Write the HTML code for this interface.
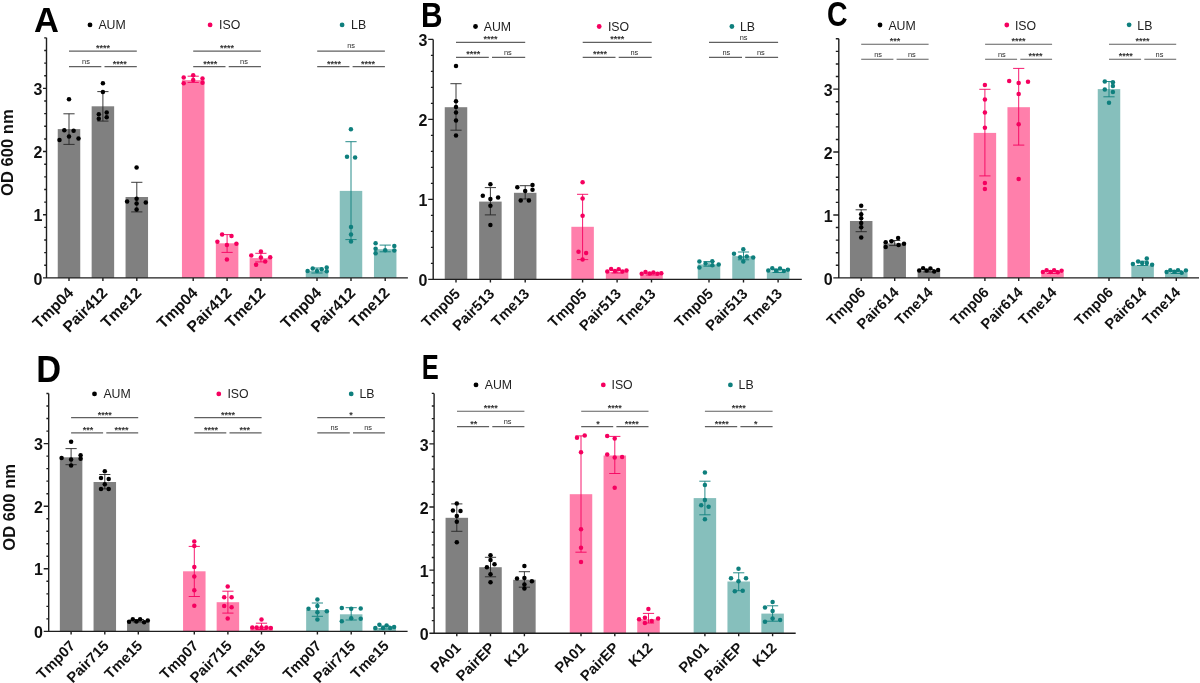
<!DOCTYPE html>
<html><head><meta charset="utf-8"><style>
html,body{margin:0;padding:0;background:#fff;}
svg{display:block;will-change:transform;}
text{font-family:"Liberation Sans",sans-serif;}
.tl{font-size:16px;font-weight:bold;fill:#111;}
.xl{font-size:15.6px;font-weight:bold;fill:#111;}
.let{font-size:36px;font-weight:bold;fill:#000;}
.yl{font-size:16.6px;font-weight:bold;fill:#111;}
.lg{font-size:12.3px;fill:#222;}
.st{font-size:9px;font-weight:bold;fill:#333;}
.ns{font-size:7.4px;fill:#2a2a2a;}
</style></head>
<body><svg width="1200" height="683" viewBox="0 0 1200 683">
<rect width="1200" height="683" fill="#fff"/>
<rect x="57.75" y="129.1" width="22.5" height="148.8" fill="#808080"/>
<rect x="91.65" y="106.3" width="22.5" height="171.6" fill="#808080"/>
<rect x="125.55" y="197" width="22.5" height="80.9" fill="#808080"/>
<rect x="181.95" y="80.1" width="22.5" height="197.8" fill="#ff7fab"/>
<rect x="215.85" y="243.3" width="22.5" height="34.6" fill="#ff7fab"/>
<rect x="249.65" y="258.1" width="22.5" height="19.8" fill="#ff7fab"/>
<rect x="305.75" y="270.9" width="22.5" height="7" fill="#86bfbc"/>
<rect x="339.75" y="190.9" width="22.5" height="87" fill="#86bfbc"/>
<rect x="373.95" y="249.2" width="22.5" height="28.7" fill="#86bfbc"/>
<path d="M69 113.8V144.4M63.4 113.8H74.6M63.4 144.4H74.6" stroke="#262626" stroke-width="0.9" fill="none"/>
<path d="M102.9 91.6V121.1M97.3 91.6H108.5M97.3 121.1H108.5" stroke="#262626" stroke-width="0.9" fill="none"/>
<path d="M136.8 182.3V211.9M131.2 182.3H142.4M131.2 211.9H142.4" stroke="#262626" stroke-width="0.9" fill="none"/>
<path d="M193.2 76.2V82.4M187.6 76.2H198.8M187.6 82.4H198.8" stroke="#f5005f" stroke-width="0.9" fill="none"/>
<path d="M227.1 234.6V252.4M221.5 234.6H232.7M221.5 252.4H232.7" stroke="#f5005f" stroke-width="0.9" fill="none"/>
<path d="M260.9 253.3V261.9M255.3 253.3H266.5M255.3 261.9H266.5" stroke="#f5005f" stroke-width="0.9" fill="none"/>
<path d="M317 268V273M311.4 268H322.6M311.4 273H322.6" stroke="#0e7f7d" stroke-width="0.9" fill="none"/>
<path d="M351 141.7V239.6M345.4 141.7H356.6M345.4 239.6H356.6" stroke="#0e7f7d" stroke-width="0.9" fill="none"/>
<path d="M385.2 245.1V251.8M379.6 245.1H390.8M379.6 251.8H390.8" stroke="#0e7f7d" stroke-width="0.9" fill="none"/>
<circle cx="69" cy="99.3" r="2.25" fill="#000000"/>
<circle cx="64.3" cy="130.3" r="2.25" fill="#000000"/>
<circle cx="73.6" cy="130.8" r="2.25" fill="#000000"/>
<circle cx="69" cy="136.6" r="2.25" fill="#000000"/>
<circle cx="59.5" cy="140" r="2.25" fill="#000000"/>
<circle cx="78.5" cy="138.5" r="2.25" fill="#000000"/>
<circle cx="102.9" cy="83.2" r="2.25" fill="#000000"/>
<circle cx="102.9" cy="92" r="2.25" fill="#000000"/>
<circle cx="98.8" cy="114.2" r="2.25" fill="#000000"/>
<circle cx="106.7" cy="112.5" r="2.25" fill="#000000"/>
<circle cx="98.8" cy="118.7" r="2.25" fill="#000000"/>
<circle cx="106.7" cy="117.2" r="2.25" fill="#000000"/>
<circle cx="136.6" cy="167.5" r="2.25" fill="#000000"/>
<circle cx="136.6" cy="198.8" r="2.25" fill="#000000"/>
<circle cx="127.1" cy="201.4" r="2.25" fill="#000000"/>
<circle cx="136.6" cy="203.4" r="2.25" fill="#000000"/>
<circle cx="145.8" cy="202.4" r="2.25" fill="#000000"/>
<circle cx="136.6" cy="209.6" r="2.25" fill="#000000"/>
<circle cx="183.7" cy="77.5" r="2.25" fill="#f5005f"/>
<circle cx="193.2" cy="75.3" r="2.25" fill="#f5005f"/>
<circle cx="202.5" cy="78.5" r="2.25" fill="#f5005f"/>
<circle cx="183.7" cy="83.2" r="2.25" fill="#f5005f"/>
<circle cx="193.2" cy="79.9" r="2.25" fill="#f5005f"/>
<circle cx="202.5" cy="82.7" r="2.25" fill="#f5005f"/>
<circle cx="222.1" cy="234.6" r="2.25" fill="#f5005f"/>
<circle cx="231.5" cy="235.9" r="2.25" fill="#f5005f"/>
<circle cx="217.4" cy="241.7" r="2.25" fill="#f5005f"/>
<circle cx="226.9" cy="244.9" r="2.25" fill="#f5005f"/>
<circle cx="236.4" cy="243.8" r="2.25" fill="#f5005f"/>
<circle cx="226.9" cy="259.5" r="2.25" fill="#f5005f"/>
<circle cx="260.9" cy="251.4" r="2.25" fill="#f5005f"/>
<circle cx="251.3" cy="255.4" r="2.25" fill="#f5005f"/>
<circle cx="260.9" cy="257.4" r="2.25" fill="#f5005f"/>
<circle cx="270.2" cy="257.3" r="2.25" fill="#f5005f"/>
<circle cx="265.2" cy="261.6" r="2.25" fill="#f5005f"/>
<circle cx="256.1" cy="264.7" r="2.25" fill="#f5005f"/>
<circle cx="307.6" cy="270.9" r="2.25" fill="#0e7f7d"/>
<circle cx="312.7" cy="268.6" r="2.25" fill="#0e7f7d"/>
<circle cx="317" cy="270.9" r="2.25" fill="#0e7f7d"/>
<circle cx="321.7" cy="269.2" r="2.25" fill="#0e7f7d"/>
<circle cx="326.7" cy="267.4" r="2.25" fill="#0e7f7d"/>
<circle cx="326.7" cy="271.2" r="2.25" fill="#0e7f7d"/>
<circle cx="350.9" cy="129.2" r="2.25" fill="#0e7f7d"/>
<circle cx="347" cy="156.7" r="2.25" fill="#0e7f7d"/>
<circle cx="355.1" cy="157.4" r="2.25" fill="#0e7f7d"/>
<circle cx="351" cy="227" r="2.25" fill="#0e7f7d"/>
<circle cx="351" cy="234.4" r="2.25" fill="#0e7f7d"/>
<circle cx="351" cy="241.4" r="2.25" fill="#0e7f7d"/>
<circle cx="375.6" cy="243.2" r="2.25" fill="#0e7f7d"/>
<circle cx="375.6" cy="248.7" r="2.25" fill="#0e7f7d"/>
<circle cx="375.6" cy="253.3" r="2.25" fill="#0e7f7d"/>
<circle cx="385.2" cy="250.2" r="2.25" fill="#0e7f7d"/>
<circle cx="394.3" cy="246" r="2.25" fill="#0e7f7d"/>
<circle cx="394.3" cy="250.4" r="2.25" fill="#0e7f7d"/>
<path d="M46.5 37.85V277.9M43 277.9H407.9M43 277.9H46.5M44.2 265.27H46.5M44.2 252.63H46.5M44.2 240H46.5M44.2 227.36H46.5M43 214.73H46.5M44.2 202.1H46.5M44.2 189.46H46.5M44.2 176.83H46.5M44.2 164.19H46.5M43 151.56H46.5M44.2 138.93H46.5M44.2 126.29H46.5M44.2 113.66H46.5M44.2 101.02H46.5M43 88.39H46.5M44.2 75.76H46.5M44.2 63.12H46.5M44.2 50.49H46.5M44.2 37.85H46.5M69 277.9V280.9M102.9 277.9V280.9M136.8 277.9V280.9M193.2 277.9V280.9M227.1 277.9V280.9M260.9 277.9V280.9M317 277.9V280.9M351 277.9V280.9M385.2 277.9V280.9" stroke="#1e1e1e" stroke-width="1.4" fill="none"/>
<text x="42.3" y="284.5" class="tl" text-anchor="end">0</text>
<text x="42.3" y="221.33" class="tl" text-anchor="end">1</text>
<text x="42.3" y="158.16" class="tl" text-anchor="end">2</text>
<text x="42.3" y="94.99" class="tl" text-anchor="end">3</text>
<text transform="translate(74.5 293.9) rotate(-45)" class="xl" style="font-size:15.6px" text-anchor="end">Tmp04</text>
<text transform="translate(108.4 293.9) rotate(-45)" class="xl" style="font-size:15.6px" text-anchor="end">Pair412</text>
<text transform="translate(142.3 293.9) rotate(-45)" class="xl" style="font-size:15.6px" text-anchor="end">Tme12</text>
<text transform="translate(198.7 293.9) rotate(-45)" class="xl" style="font-size:15.6px" text-anchor="end">Tmp04</text>
<text transform="translate(232.6 293.9) rotate(-45)" class="xl" style="font-size:15.6px" text-anchor="end">Pair412</text>
<text transform="translate(266.4 293.9) rotate(-45)" class="xl" style="font-size:15.6px" text-anchor="end">Tme12</text>
<text transform="translate(322.5 293.9) rotate(-45)" class="xl" style="font-size:15.6px" text-anchor="end">Tmp04</text>
<text transform="translate(356.5 293.9) rotate(-45)" class="xl" style="font-size:15.6px" text-anchor="end">Pair412</text>
<text transform="translate(390.7 293.9) rotate(-45)" class="xl" style="font-size:15.6px" text-anchor="end">Tme12</text>
<text transform="translate(34.06 32.15) scale(0.975 1)" style="font-size:35.44px" class="let">A</text>
<text transform="translate(13.4 152.6) rotate(-90)" class="yl" text-anchor="middle">OD 600 nm</text>
<circle cx="90" cy="24.9" r="2.4" fill="#000000"/>
<text x="98.4" y="29.3" class="lg">AUM</text>
<circle cx="210.1" cy="24.9" r="2.4" fill="#f5005f"/>
<text x="219.1" y="29.3" class="lg">ISO</text>
<circle cx="342.1" cy="24.9" r="2.4" fill="#0e7f7d"/>
<text x="351.1" y="29.3" class="lg">LB</text>
<path d="M69 51.1H136.8M69 66.6H101.3M104.5 66.6H136.8" stroke="#606060" stroke-width="1.1" fill="none"/>
<text x="102.9" y="51" class="st" text-anchor="middle">****</text>
<text x="85.95" y="63.8" class="ns" text-anchor="middle">ns</text>
<text x="119.85" y="66.5" class="st" text-anchor="middle">****</text>
<path d="M193.2 51.1H260.9M193.2 66.6H225.5M228.7 66.6H260.9" stroke="#606060" stroke-width="1.1" fill="none"/>
<text x="227.05" y="51" class="st" text-anchor="middle">****</text>
<text x="210.15" y="66.5" class="st" text-anchor="middle">****</text>
<text x="244" y="63.8" class="ns" text-anchor="middle">ns</text>
<path d="M317.2 51.1H384.9M317.2 66.6H349.4M352.6 66.6H384.9" stroke="#606060" stroke-width="1.1" fill="none"/>
<text x="351.05" y="48.3" class="ns" text-anchor="middle">ns</text>
<text x="334.1" y="66.5" class="st" text-anchor="middle">****</text>
<text x="367.95" y="66.5" class="st" text-anchor="middle">****</text>
<rect x="444.75" y="107.2" width="22.5" height="172.2" fill="#808080"/>
<rect x="479.15" y="201.6" width="22.5" height="77.8" fill="#808080"/>
<rect x="513.95" y="192.8" width="22.5" height="86.6" fill="#808080"/>
<rect x="571.35" y="226.8" width="22.5" height="52.6" fill="#ff7fab"/>
<rect x="605.85" y="272" width="22.5" height="7.4" fill="#ff7fab"/>
<rect x="640.25" y="274.2" width="22.5" height="5.2" fill="#ff7fab"/>
<rect x="697.75" y="264.4" width="22.5" height="15" fill="#86bfbc"/>
<rect x="732.25" y="256.1" width="22.5" height="23.3" fill="#86bfbc"/>
<rect x="766.85" y="271.5" width="22.5" height="7.9" fill="#86bfbc"/>
<path d="M456 83.7V130.2M450.4 83.7H461.6M450.4 130.2H461.6" stroke="#262626" stroke-width="0.9" fill="none"/>
<path d="M490.4 187.6V214.9M484.8 187.6H496M484.8 214.9H496" stroke="#262626" stroke-width="0.9" fill="none"/>
<path d="M525.2 185.7V199M519.6 185.7H530.8M519.6 199H530.8" stroke="#262626" stroke-width="0.9" fill="none"/>
<path d="M582.6 194.3V259.6M577 194.3H588.2M577 259.6H588.2" stroke="#f5005f" stroke-width="0.9" fill="none"/>
<path d="M617.1 270.5V273M611.5 270.5H622.7M611.5 273H622.7" stroke="#f5005f" stroke-width="0.9" fill="none"/>
<path d="M651.5 273V275M645.9 273H657.1M645.9 275H657.1" stroke="#f5005f" stroke-width="0.9" fill="none"/>
<path d="M709 261.6V266.2M703.4 261.6H714.6M703.4 266.2H714.6" stroke="#0e7f7d" stroke-width="0.9" fill="none"/>
<path d="M743.5 252V259.8M737.9 252H749.1M737.9 259.8H749.1" stroke="#0e7f7d" stroke-width="0.9" fill="none"/>
<path d="M778.1 269.5V272.5M772.5 269.5H783.7M772.5 272.5H783.7" stroke="#0e7f7d" stroke-width="0.9" fill="none"/>
<circle cx="456" cy="65.9" r="2.25" fill="#000000"/>
<circle cx="456" cy="101.3" r="2.25" fill="#000000"/>
<circle cx="456" cy="106.9" r="2.25" fill="#000000"/>
<circle cx="456" cy="112.6" r="2.25" fill="#000000"/>
<circle cx="456" cy="120.5" r="2.25" fill="#000000"/>
<circle cx="456" cy="135.6" r="2.25" fill="#000000"/>
<circle cx="490.4" cy="184.2" r="2.25" fill="#000000"/>
<circle cx="482.8" cy="195.8" r="2.25" fill="#000000"/>
<circle cx="498.1" cy="197.4" r="2.25" fill="#000000"/>
<circle cx="490.4" cy="199" r="2.25" fill="#000000"/>
<circle cx="490.4" cy="205.8" r="2.25" fill="#000000"/>
<circle cx="490.4" cy="225.1" r="2.25" fill="#000000"/>
<circle cx="517.3" cy="187.3" r="2.25" fill="#000000"/>
<circle cx="532.5" cy="185" r="2.25" fill="#000000"/>
<circle cx="525.2" cy="191" r="2.25" fill="#000000"/>
<circle cx="532.5" cy="189.8" r="2.25" fill="#000000"/>
<circle cx="520.7" cy="200.6" r="2.25" fill="#000000"/>
<circle cx="528.9" cy="200.5" r="2.25" fill="#000000"/>
<circle cx="582.6" cy="182.3" r="2.25" fill="#f5005f"/>
<circle cx="582.6" cy="198.5" r="2.25" fill="#f5005f"/>
<circle cx="582.6" cy="215.7" r="2.25" fill="#f5005f"/>
<circle cx="578.5" cy="251.7" r="2.25" fill="#f5005f"/>
<circle cx="586.1" cy="253" r="2.25" fill="#f5005f"/>
<circle cx="582.6" cy="259.6" r="2.25" fill="#f5005f"/>
<circle cx="607.3" cy="271.4" r="2.25" fill="#f5005f"/>
<circle cx="611.1" cy="269" r="2.25" fill="#f5005f"/>
<circle cx="614.9" cy="271.1" r="2.25" fill="#f5005f"/>
<circle cx="618.7" cy="269.3" r="2.25" fill="#f5005f"/>
<circle cx="622.5" cy="271.4" r="2.25" fill="#f5005f"/>
<circle cx="626.5" cy="270.5" r="2.25" fill="#f5005f"/>
<circle cx="641.7" cy="273.7" r="2.25" fill="#f5005f"/>
<circle cx="645.5" cy="272" r="2.25" fill="#f5005f"/>
<circle cx="649.6" cy="273.4" r="2.25" fill="#f5005f"/>
<circle cx="653.4" cy="272.5" r="2.25" fill="#f5005f"/>
<circle cx="657.5" cy="273.7" r="2.25" fill="#f5005f"/>
<circle cx="661.3" cy="273.3" r="2.25" fill="#f5005f"/>
<circle cx="699.4" cy="261.6" r="2.25" fill="#0e7f7d"/>
<circle cx="699.4" cy="267.6" r="2.25" fill="#0e7f7d"/>
<circle cx="705.6" cy="263.5" r="2.25" fill="#0e7f7d"/>
<circle cx="712.3" cy="261.2" r="2.25" fill="#0e7f7d"/>
<circle cx="712.3" cy="265.3" r="2.25" fill="#0e7f7d"/>
<circle cx="718.7" cy="264.4" r="2.25" fill="#0e7f7d"/>
<circle cx="743.3" cy="249.2" r="2.25" fill="#0e7f7d"/>
<circle cx="734" cy="253.8" r="2.25" fill="#0e7f7d"/>
<circle cx="740.2" cy="257.2" r="2.25" fill="#0e7f7d"/>
<circle cx="746.8" cy="256.6" r="2.25" fill="#0e7f7d"/>
<circle cx="753.2" cy="257.5" r="2.25" fill="#0e7f7d"/>
<circle cx="743.3" cy="261.6" r="2.25" fill="#0e7f7d"/>
<circle cx="768.3" cy="270.6" r="2.25" fill="#0e7f7d"/>
<circle cx="772.3" cy="268.2" r="2.25" fill="#0e7f7d"/>
<circle cx="776" cy="270.4" r="2.25" fill="#0e7f7d"/>
<circle cx="780" cy="268.4" r="2.25" fill="#0e7f7d"/>
<circle cx="783.9" cy="271" r="2.25" fill="#0e7f7d"/>
<circle cx="787.9" cy="269.7" r="2.25" fill="#0e7f7d"/>
<path d="M433.2 39.4V279.4M428.2 279.4H801.8M428.2 279.4H433.2M430.9 263.4H433.2M430.9 247.4H433.2M430.9 231.4H433.2M430.9 215.4H433.2M428.2 199.4H433.2M430.9 183.4H433.2M430.9 167.4H433.2M430.9 151.4H433.2M430.9 135.4H433.2M428.2 119.4H433.2M430.9 103.4H433.2M430.9 87.4H433.2M430.9 71.4H433.2M430.9 55.4H433.2M428.2 39.4H433.2M456 279.4V282.4M490.4 279.4V282.4M525.2 279.4V282.4M582.6 279.4V282.4M617.1 279.4V282.4M651.5 279.4V282.4M709 279.4V282.4M743.5 279.4V282.4M778.1 279.4V282.4" stroke="#1e1e1e" stroke-width="1.4" fill="none"/>
<text x="427.5" y="286" class="tl" text-anchor="end">0</text>
<text x="427.5" y="206" class="tl" text-anchor="end">1</text>
<text x="427.5" y="126" class="tl" text-anchor="end">2</text>
<text x="427.5" y="46" class="tl" text-anchor="end">3</text>
<text transform="translate(461 294.8) rotate(-45)" class="xl" style="font-size:14.7px" text-anchor="end">Tmp05</text>
<text transform="translate(495.4 294.8) rotate(-45)" class="xl" style="font-size:14.7px" text-anchor="end">Pair513</text>
<text transform="translate(530.2 294.8) rotate(-45)" class="xl" style="font-size:14.7px" text-anchor="end">Tme13</text>
<text transform="translate(587.6 294.8) rotate(-45)" class="xl" style="font-size:14.7px" text-anchor="end">Tmp05</text>
<text transform="translate(622.1 294.8) rotate(-45)" class="xl" style="font-size:14.7px" text-anchor="end">Pair513</text>
<text transform="translate(656.5 294.8) rotate(-45)" class="xl" style="font-size:14.7px" text-anchor="end">Tme13</text>
<text transform="translate(714 294.8) rotate(-45)" class="xl" style="font-size:14.7px" text-anchor="end">Tmp05</text>
<text transform="translate(748.5 294.8) rotate(-45)" class="xl" style="font-size:14.7px" text-anchor="end">Pair513</text>
<text transform="translate(783.1 294.8) rotate(-45)" class="xl" style="font-size:14.7px" text-anchor="end">Tme13</text>
<text transform="translate(421.11 26.9) scale(0.854 1)" style="font-size:34.93px" class="let">B</text>
<circle cx="475.5" cy="26.5" r="2.4" fill="#000000"/>
<text x="483.7" y="30.8" class="lg">AUM</text>
<circle cx="599.2" cy="26.5" r="2.4" fill="#f5005f"/>
<text x="607.9" y="30.8" class="lg">ISO</text>
<circle cx="731.9" cy="26.5" r="2.4" fill="#0e7f7d"/>
<text x="739.9" y="30.8" class="lg">LB</text>
<path d="M456 42.4H525.2M456 57.4H488.8M492 57.4H525.2" stroke="#606060" stroke-width="1.1" fill="none"/>
<text x="490.6" y="42.3" class="st" text-anchor="middle">****</text>
<text x="473.2" y="57.3" class="st" text-anchor="middle">****</text>
<text x="507.8" y="54.6" class="ns" text-anchor="middle">ns</text>
<path d="M582.7 42.4H651.7M582.7 57.4H615.5M618.7 57.4H651.7" stroke="#606060" stroke-width="1.1" fill="none"/>
<text x="617.2" y="42.3" class="st" text-anchor="middle">****</text>
<text x="599.9" y="57.3" class="st" text-anchor="middle">****</text>
<text x="634.4" y="54.6" class="ns" text-anchor="middle">ns</text>
<path d="M709 42.4H778.1M709 57.4H742M745.2 57.4H778.1" stroke="#606060" stroke-width="1.1" fill="none"/>
<text x="743.55" y="39.6" class="ns" text-anchor="middle">ns</text>
<text x="726.3" y="54.6" class="ns" text-anchor="middle">ns</text>
<text x="760.85" y="54.6" class="ns" text-anchor="middle">ns</text>
<rect x="849.95" y="221" width="22.5" height="56.9" fill="#808080"/>
<rect x="883.45" y="243.4" width="22.5" height="34.5" fill="#808080"/>
<rect x="917.65" y="271" width="22.5" height="6.9" fill="#808080"/>
<rect x="973.65" y="132.9" width="22.5" height="145" fill="#ff7fab"/>
<rect x="1007.45" y="107.2" width="22.5" height="170.7" fill="#ff7fab"/>
<rect x="1041.25" y="272.5" width="22.5" height="5.4" fill="#ff7fab"/>
<rect x="1097.75" y="89.1" width="22.5" height="188.8" fill="#86bfbc"/>
<rect x="1131.35" y="265.3" width="22.5" height="12.6" fill="#86bfbc"/>
<rect x="1165.05" y="272.5" width="22.5" height="5.4" fill="#86bfbc"/>
<path d="M861.2 209.8V231.7M855.6 209.8H866.8M855.6 231.7H866.8" stroke="#262626" stroke-width="0.9" fill="none"/>
<path d="M894.7 240.5V245.6M889.1 240.5H900.3M889.1 245.6H900.3" stroke="#262626" stroke-width="0.9" fill="none"/>
<path d="M928.9 269.5V272M923.3 269.5H934.5M923.3 272H934.5" stroke="#262626" stroke-width="0.9" fill="none"/>
<path d="M984.9 89.3V175.9M979.3 89.3H990.5M979.3 175.9H990.5" stroke="#f5005f" stroke-width="0.9" fill="none"/>
<path d="M1018.7 68.4V145.1M1013.1 68.4H1024.3M1013.1 145.1H1024.3" stroke="#f5005f" stroke-width="0.9" fill="none"/>
<path d="M1052.5 270.8V273.5M1046.9 270.8H1058.1M1046.9 273.5H1058.1" stroke="#f5005f" stroke-width="0.9" fill="none"/>
<path d="M1109 81.5V96.8M1103.4 81.5H1114.6M1103.4 96.8H1114.6" stroke="#0e7f7d" stroke-width="0.9" fill="none"/>
<path d="M1142.6 261.2V265.5M1137 261.2H1148.2M1137 265.5H1148.2" stroke="#0e7f7d" stroke-width="0.9" fill="none"/>
<path d="M1176.3 270.8V273.5M1170.7 270.8H1181.9M1170.7 273.5H1181.9" stroke="#0e7f7d" stroke-width="0.9" fill="none"/>
<circle cx="861.2" cy="205.7" r="2.25" fill="#000000"/>
<circle cx="861.2" cy="214.2" r="2.25" fill="#000000"/>
<circle cx="861.2" cy="218.3" r="2.25" fill="#000000"/>
<circle cx="861.2" cy="223" r="2.25" fill="#000000"/>
<circle cx="861.2" cy="227.3" r="2.25" fill="#000000"/>
<circle cx="861.2" cy="237.6" r="2.25" fill="#000000"/>
<circle cx="898.1" cy="238" r="2.25" fill="#000000"/>
<circle cx="885.7" cy="242.3" r="2.25" fill="#000000"/>
<circle cx="891.5" cy="241.2" r="2.25" fill="#000000"/>
<circle cx="904" cy="243.7" r="2.25" fill="#000000"/>
<circle cx="898.6" cy="244.9" r="2.25" fill="#000000"/>
<circle cx="885.7" cy="247.1" r="2.25" fill="#000000"/>
<circle cx="919.2" cy="270.6" r="2.25" fill="#000000"/>
<circle cx="923.1" cy="268.2" r="2.25" fill="#000000"/>
<circle cx="926.6" cy="270.6" r="2.25" fill="#000000"/>
<circle cx="930.4" cy="268.6" r="2.25" fill="#000000"/>
<circle cx="934.2" cy="271.5" r="2.25" fill="#000000"/>
<circle cx="938.1" cy="269.9" r="2.25" fill="#000000"/>
<circle cx="984.9" cy="84.9" r="2.25" fill="#f5005f"/>
<circle cx="984.9" cy="99.5" r="2.25" fill="#f5005f"/>
<circle cx="984.9" cy="112.4" r="2.25" fill="#f5005f"/>
<circle cx="984.9" cy="127.8" r="2.25" fill="#f5005f"/>
<circle cx="984.9" cy="183" r="2.25" fill="#f5005f"/>
<circle cx="984.9" cy="189.1" r="2.25" fill="#f5005f"/>
<circle cx="1009.2" cy="81" r="2.25" fill="#f5005f"/>
<circle cx="1018.7" cy="83" r="2.25" fill="#f5005f"/>
<circle cx="1028" cy="81.7" r="2.25" fill="#f5005f"/>
<circle cx="1018.7" cy="94" r="2.25" fill="#f5005f"/>
<circle cx="1018.7" cy="124.2" r="2.25" fill="#f5005f"/>
<circle cx="1018.7" cy="179" r="2.25" fill="#f5005f"/>
<circle cx="1042.9" cy="271.9" r="2.25" fill="#f5005f"/>
<circle cx="1046.6" cy="270.2" r="2.25" fill="#f5005f"/>
<circle cx="1050.4" cy="271.9" r="2.25" fill="#f5005f"/>
<circle cx="1054.1" cy="270.2" r="2.25" fill="#f5005f"/>
<circle cx="1057.8" cy="272.3" r="2.25" fill="#f5005f"/>
<circle cx="1061.6" cy="270.8" r="2.25" fill="#f5005f"/>
<circle cx="1104.8" cy="81.5" r="2.25" fill="#0e7f7d"/>
<circle cx="1112.9" cy="82.3" r="2.25" fill="#0e7f7d"/>
<circle cx="1112.9" cy="85.9" r="2.25" fill="#0e7f7d"/>
<circle cx="1104.8" cy="89.6" r="2.25" fill="#0e7f7d"/>
<circle cx="1112.9" cy="92" r="2.25" fill="#0e7f7d"/>
<circle cx="1109" cy="102.8" r="2.25" fill="#0e7f7d"/>
<circle cx="1132.9" cy="263.9" r="2.25" fill="#0e7f7d"/>
<circle cx="1138.1" cy="261.6" r="2.25" fill="#0e7f7d"/>
<circle cx="1142.2" cy="263" r="2.25" fill="#0e7f7d"/>
<circle cx="1146.8" cy="258.4" r="2.25" fill="#0e7f7d"/>
<circle cx="1146.8" cy="263" r="2.25" fill="#0e7f7d"/>
<circle cx="1152.1" cy="264.8" r="2.25" fill="#0e7f7d"/>
<circle cx="1166.6" cy="271.9" r="2.25" fill="#0e7f7d"/>
<circle cx="1170.3" cy="270.2" r="2.25" fill="#0e7f7d"/>
<circle cx="1174.3" cy="271.7" r="2.25" fill="#0e7f7d"/>
<circle cx="1178" cy="270.2" r="2.25" fill="#0e7f7d"/>
<circle cx="1181.7" cy="272.8" r="2.25" fill="#0e7f7d"/>
<circle cx="1185.9" cy="270.6" r="2.25" fill="#0e7f7d"/>
<path d="M838.8 38.77V277.9M833.3 277.9H1199M833.3 277.9H838.8M835.8 265.31H838.8M835.8 252.73H838.8M835.8 240.14H838.8M835.8 227.56H838.8M833.3 214.97H838.8M835.8 202.38H838.8M835.8 189.8H838.8M835.8 177.21H838.8M835.8 164.63H838.8M833.3 152.04H838.8M835.8 139.45H838.8M835.8 126.87H838.8M835.8 114.28H838.8M835.8 101.7H838.8M833.3 89.11H838.8M835.8 76.52H838.8M835.8 63.94H838.8M835.8 51.35H838.8M835.8 38.77H838.8M861.2 277.9V280.9M894.7 277.9V280.9M928.9 277.9V280.9M984.9 277.9V280.9M1018.7 277.9V280.9M1052.5 277.9V280.9M1109 277.9V280.9M1142.6 277.9V280.9M1176.3 277.9V280.9" stroke="#1e1e1e" stroke-width="1.4" fill="none"/>
<text x="832.6" y="284.5" class="tl" text-anchor="end">0</text>
<text x="832.6" y="221.57" class="tl" text-anchor="end">1</text>
<text x="832.6" y="158.64" class="tl" text-anchor="end">2</text>
<text x="832.6" y="95.71" class="tl" text-anchor="end">3</text>
<text transform="translate(866.2 293.3) rotate(-45)" class="xl" style="font-size:14.7px" text-anchor="end">Tmp06</text>
<text transform="translate(899.7 293.3) rotate(-45)" class="xl" style="font-size:14.7px" text-anchor="end">Pair614</text>
<text transform="translate(933.9 293.3) rotate(-45)" class="xl" style="font-size:14.7px" text-anchor="end">Tme14</text>
<text transform="translate(989.9 293.3) rotate(-45)" class="xl" style="font-size:14.7px" text-anchor="end">Tmp06</text>
<text transform="translate(1023.7 293.3) rotate(-45)" class="xl" style="font-size:14.7px" text-anchor="end">Pair614</text>
<text transform="translate(1057.5 293.3) rotate(-45)" class="xl" style="font-size:14.7px" text-anchor="end">Tme14</text>
<text transform="translate(1114 293.3) rotate(-45)" class="xl" style="font-size:14.7px" text-anchor="end">Tmp06</text>
<text transform="translate(1147.6 293.3) rotate(-45)" class="xl" style="font-size:14.7px" text-anchor="end">Pair614</text>
<text transform="translate(1181.3 293.3) rotate(-45)" class="xl" style="font-size:14.7px" text-anchor="end">Tme14</text>
<text transform="translate(827.06 25.54) scale(0.796 1)" style="font-size:35.77px" class="let">C</text>
<circle cx="880" cy="25" r="2.4" fill="#000000"/>
<text x="888.4" y="29.5" class="lg">AUM</text>
<circle cx="1006.8" cy="25" r="2.4" fill="#f5005f"/>
<text x="1014.9" y="29.5" class="lg">ISO</text>
<circle cx="1129.1" cy="24.8" r="2.4" fill="#0e7f7d"/>
<text x="1137.3" y="29.5" class="lg">LB</text>
<path d="M861.2 44.2H928.6M861.2 59.3H893.4M896.6 59.3H928.6" stroke="#606060" stroke-width="1.1" fill="none"/>
<text x="894.9" y="44.1" class="st" text-anchor="middle">***</text>
<text x="878.1" y="56.5" class="ns" text-anchor="middle">ns</text>
<text x="911.8" y="56.5" class="ns" text-anchor="middle">ns</text>
<path d="M985.1 44.2H1052.1M985.1 59.3H1017.1M1020.3 59.3H1052.1" stroke="#606060" stroke-width="1.1" fill="none"/>
<text x="1018.6" y="44.1" class="st" text-anchor="middle">****</text>
<text x="1001.9" y="56.5" class="ns" text-anchor="middle">ns</text>
<text x="1035.4" y="59.2" class="st" text-anchor="middle">****</text>
<path d="M1109 44.2H1176.2M1109 59.3H1141.1M1144.3 59.3H1176.2" stroke="#606060" stroke-width="1.1" fill="none"/>
<text x="1142.6" y="44.1" class="st" text-anchor="middle">****</text>
<text x="1125.85" y="59.2" class="st" text-anchor="middle">****</text>
<text x="1159.45" y="56.5" class="ns" text-anchor="middle">ns</text>
<rect x="59.85" y="457.3" width="22.5" height="174.1" fill="#808080"/>
<rect x="93.55" y="482" width="22.5" height="149.4" fill="#808080"/>
<rect x="127.05" y="620.5" width="22.5" height="10.9" fill="#808080"/>
<rect x="183.05" y="571.3" width="22.5" height="60.1" fill="#ff7fab"/>
<rect x="216.65" y="602.2" width="22.5" height="29.2" fill="#ff7fab"/>
<rect x="250.25" y="627.2" width="22.5" height="4.2" fill="#ff7fab"/>
<rect x="306.15" y="610" width="22.5" height="21.4" fill="#86bfbc"/>
<rect x="339.95" y="614.3" width="22.5" height="17.1" fill="#86bfbc"/>
<rect x="373.45" y="627.9" width="22.5" height="3.5" fill="#86bfbc"/>
<path d="M71.1 448.6V464.7M65.5 448.6H76.7M65.5 464.7H76.7" stroke="#262626" stroke-width="0.9" fill="none"/>
<path d="M104.8 474.5V488.9M99.2 474.5H110.4M99.2 488.9H110.4" stroke="#262626" stroke-width="0.9" fill="none"/>
<path d="M138.3 619.5V622M132.7 619.5H143.9M132.7 622H143.9" stroke="#262626" stroke-width="0.9" fill="none"/>
<path d="M194.3 546.4V596.5M188.7 546.4H199.9M188.7 596.5H199.9" stroke="#f5005f" stroke-width="0.9" fill="none"/>
<path d="M227.9 591.2V613.1M222.3 591.2H233.5M222.3 613.1H233.5" stroke="#f5005f" stroke-width="0.9" fill="none"/>
<path d="M261.5 623.2V629.5M255.9 623.2H267.1M255.9 629.5H267.1" stroke="#f5005f" stroke-width="0.9" fill="none"/>
<path d="M317.4 603V616.3M311.8 603H323M311.8 616.3H323" stroke="#0e7f7d" stroke-width="0.9" fill="none"/>
<path d="M351.2 607.7V620M345.6 607.7H356.8M345.6 620H356.8" stroke="#0e7f7d" stroke-width="0.9" fill="none"/>
<path d="M384.7 626V629M379.1 626H390.3M379.1 629H390.3" stroke="#0e7f7d" stroke-width="0.9" fill="none"/>
<circle cx="71.1" cy="441.7" r="2.25" fill="#000000"/>
<circle cx="61.6" cy="458.1" r="2.25" fill="#000000"/>
<circle cx="71.1" cy="459.5" r="2.25" fill="#000000"/>
<circle cx="80.6" cy="455.2" r="2.25" fill="#000000"/>
<circle cx="80.6" cy="458.8" r="2.25" fill="#000000"/>
<circle cx="71.1" cy="465.4" r="2.25" fill="#000000"/>
<circle cx="104.8" cy="471.3" r="2.25" fill="#000000"/>
<circle cx="101" cy="478.1" r="2.25" fill="#000000"/>
<circle cx="108.7" cy="479" r="2.25" fill="#000000"/>
<circle cx="104.8" cy="484.3" r="2.25" fill="#000000"/>
<circle cx="101" cy="488.9" r="2.25" fill="#000000"/>
<circle cx="108.7" cy="488.9" r="2.25" fill="#000000"/>
<circle cx="129.1" cy="621.7" r="2.25" fill="#000000"/>
<circle cx="132.8" cy="619.2" r="2.25" fill="#000000"/>
<circle cx="136.4" cy="621.6" r="2.25" fill="#000000"/>
<circle cx="140.1" cy="619.2" r="2.25" fill="#000000"/>
<circle cx="144.1" cy="622.3" r="2.25" fill="#000000"/>
<circle cx="147.8" cy="620.5" r="2.25" fill="#000000"/>
<circle cx="194.3" cy="541.4" r="2.25" fill="#f5005f"/>
<circle cx="194.3" cy="546" r="2.25" fill="#f5005f"/>
<circle cx="194.3" cy="567.1" r="2.25" fill="#f5005f"/>
<circle cx="194.3" cy="576.6" r="2.25" fill="#f5005f"/>
<circle cx="194.3" cy="590.3" r="2.25" fill="#f5005f"/>
<circle cx="194.3" cy="605.8" r="2.25" fill="#f5005f"/>
<circle cx="227.7" cy="586.4" r="2.25" fill="#f5005f"/>
<circle cx="224.2" cy="597.3" r="2.25" fill="#f5005f"/>
<circle cx="231.6" cy="597.3" r="2.25" fill="#f5005f"/>
<circle cx="224.2" cy="606.1" r="2.25" fill="#f5005f"/>
<circle cx="231.6" cy="607.3" r="2.25" fill="#f5005f"/>
<circle cx="227.7" cy="618.4" r="2.25" fill="#f5005f"/>
<circle cx="261.5" cy="619.6" r="2.25" fill="#f5005f"/>
<circle cx="252.3" cy="627.6" r="2.25" fill="#f5005f"/>
<circle cx="256.7" cy="627.6" r="2.25" fill="#f5005f"/>
<circle cx="261.5" cy="627.6" r="2.25" fill="#f5005f"/>
<circle cx="266.4" cy="627.6" r="2.25" fill="#f5005f"/>
<circle cx="270.8" cy="628.1" r="2.25" fill="#f5005f"/>
<circle cx="317.4" cy="599.4" r="2.25" fill="#0e7f7d"/>
<circle cx="317.4" cy="606.1" r="2.25" fill="#0e7f7d"/>
<circle cx="308.5" cy="608.7" r="2.25" fill="#0e7f7d"/>
<circle cx="317.4" cy="612.2" r="2.25" fill="#0e7f7d"/>
<circle cx="326.8" cy="611.3" r="2.25" fill="#0e7f7d"/>
<circle cx="317.4" cy="619.5" r="2.25" fill="#0e7f7d"/>
<circle cx="341.8" cy="608.1" r="2.25" fill="#0e7f7d"/>
<circle cx="351.2" cy="608.7" r="2.25" fill="#0e7f7d"/>
<circle cx="360.7" cy="608.4" r="2.25" fill="#0e7f7d"/>
<circle cx="351.2" cy="618.2" r="2.25" fill="#0e7f7d"/>
<circle cx="360.7" cy="618.7" r="2.25" fill="#0e7f7d"/>
<circle cx="341.8" cy="621.2" r="2.25" fill="#0e7f7d"/>
<circle cx="375.3" cy="627.9" r="2.25" fill="#0e7f7d"/>
<circle cx="379.4" cy="624.8" r="2.25" fill="#0e7f7d"/>
<circle cx="383" cy="627.9" r="2.25" fill="#0e7f7d"/>
<circle cx="386.6" cy="625.6" r="2.25" fill="#0e7f7d"/>
<circle cx="390.2" cy="627.9" r="2.25" fill="#0e7f7d"/>
<circle cx="394.1" cy="626.9" r="2.25" fill="#0e7f7d"/>
<path d="M48.7 393.52V631.4M43.7 631.4H407.6M43.7 631.4H48.7M46.4 618.88H48.7M46.4 606.36H48.7M46.4 593.84H48.7M46.4 581.32H48.7M43.7 568.8H48.7M46.4 556.28H48.7M46.4 543.76H48.7M46.4 531.24H48.7M46.4 518.72H48.7M43.7 506.2H48.7M46.4 493.68H48.7M46.4 481.16H48.7M46.4 468.64H48.7M46.4 456.12H48.7M43.7 443.6H48.7M46.4 431.08H48.7M46.4 418.56H48.7M46.4 406.04H48.7M46.4 393.52H48.7M71.1 631.4V634.4M104.8 631.4V634.4M138.3 631.4V634.4M194.3 631.4V634.4M227.9 631.4V634.4M261.5 631.4V634.4M317.4 631.4V634.4M351.2 631.4V634.4M384.7 631.4V634.4" stroke="#1e1e1e" stroke-width="1.4" fill="none"/>
<text x="43" y="638" class="tl" text-anchor="end">0</text>
<text x="43" y="575.4" class="tl" text-anchor="end">1</text>
<text x="43" y="512.8" class="tl" text-anchor="end">2</text>
<text x="43" y="450.2" class="tl" text-anchor="end">3</text>
<text transform="translate(76.1 646.8) rotate(-45)" class="xl" style="font-size:14.7px" text-anchor="end">Tmp07</text>
<text transform="translate(109.8 646.8) rotate(-45)" class="xl" style="font-size:14.7px" text-anchor="end">Pair715</text>
<text transform="translate(143.3 646.8) rotate(-45)" class="xl" style="font-size:14.7px" text-anchor="end">Tme15</text>
<text transform="translate(199.3 646.8) rotate(-45)" class="xl" style="font-size:14.7px" text-anchor="end">Tmp07</text>
<text transform="translate(232.9 646.8) rotate(-45)" class="xl" style="font-size:14.7px" text-anchor="end">Pair715</text>
<text transform="translate(266.5 646.8) rotate(-45)" class="xl" style="font-size:14.7px" text-anchor="end">Tme15</text>
<text transform="translate(322.4 646.8) rotate(-45)" class="xl" style="font-size:14.7px" text-anchor="end">Tmp07</text>
<text transform="translate(356.2 646.8) rotate(-45)" class="xl" style="font-size:14.7px" text-anchor="end">Pair715</text>
<text transform="translate(389.7 646.8) rotate(-45)" class="xl" style="font-size:14.7px" text-anchor="end">Tme15</text>
<text transform="translate(36.29 382) scale(0.954 1)" style="font-size:36.09px" class="let">D</text>
<text transform="translate(14.6 507.3) rotate(-90)" class="yl" text-anchor="middle">OD 600 nm</text>
<circle cx="94.5" cy="393.9" r="2.4" fill="#000000"/>
<text x="103.4" y="398.3" class="lg">AUM</text>
<circle cx="218.8" cy="393.9" r="2.4" fill="#f5005f"/>
<text x="227.4" y="398.3" class="lg">ISO</text>
<circle cx="351.2" cy="393.9" r="2.4" fill="#0e7f7d"/>
<text x="359.4" y="398.3" class="lg">LB</text>
<path d="M71.1 417.6H138.2M71.1 432.9H103.1M106.3 432.9H138.2" stroke="#606060" stroke-width="1.1" fill="none"/>
<text x="104.65" y="417.5" class="st" text-anchor="middle">****</text>
<text x="87.9" y="432.8" class="st" text-anchor="middle">***</text>
<text x="121.45" y="432.8" class="st" text-anchor="middle">****</text>
<path d="M194.3 417.6H261.6M194.3 432.9H226.3M229.5 432.9H261.6" stroke="#606060" stroke-width="1.1" fill="none"/>
<text x="227.95" y="417.5" class="st" text-anchor="middle">****</text>
<text x="211.1" y="432.8" class="st" text-anchor="middle">****</text>
<text x="244.75" y="432.8" class="st" text-anchor="middle">***</text>
<path d="M317.3 417.6H384.9M317.3 432.9H349.8M353 432.9H384.9" stroke="#606060" stroke-width="1.1" fill="none"/>
<text x="351.1" y="417.5" class="st" text-anchor="middle">*</text>
<text x="334.35" y="430.1" class="ns" text-anchor="middle">ns</text>
<text x="368.15" y="430.1" class="ns" text-anchor="middle">ns</text>
<rect x="445.55" y="517.8" width="22.5" height="115.4" fill="#808080"/>
<rect x="479.25" y="567.2" width="22.5" height="66" fill="#808080"/>
<rect x="513.15" y="579.7" width="22.5" height="53.5" fill="#808080"/>
<rect x="569.75" y="494.2" width="22.5" height="139" fill="#ff7fab"/>
<rect x="603.55" y="455.5" width="22.5" height="177.7" fill="#ff7fab"/>
<rect x="637.25" y="619.2" width="22.5" height="14" fill="#ff7fab"/>
<rect x="693.65" y="498.1" width="22.5" height="135.1" fill="#86bfbc"/>
<rect x="727.45" y="581.5" width="22.5" height="51.7" fill="#86bfbc"/>
<rect x="761.35" y="613.6" width="22.5" height="19.6" fill="#86bfbc"/>
<path d="M456.8 503.9V531.3M451.2 503.9H462.4M451.2 531.3H462.4" stroke="#262626" stroke-width="0.9" fill="none"/>
<path d="M490.5 557.3V576.8M484.9 557.3H496.1M484.9 576.8H496.1" stroke="#262626" stroke-width="0.9" fill="none"/>
<path d="M524.4 571.7V587.2M518.8 571.7H530M518.8 587.2H530" stroke="#262626" stroke-width="0.9" fill="none"/>
<path d="M581 435.9V552.2M575.4 435.9H586.6M575.4 552.2H586.6" stroke="#f5005f" stroke-width="0.9" fill="none"/>
<path d="M614.8 436.4V473.5M609.2 436.4H620.4M609.2 473.5H620.4" stroke="#f5005f" stroke-width="0.9" fill="none"/>
<path d="M648.5 613.4V623M642.9 613.4H654.1M642.9 623H654.1" stroke="#f5005f" stroke-width="0.9" fill="none"/>
<path d="M704.9 481.2V514.8M699.3 481.2H710.5M699.3 514.8H710.5" stroke="#0e7f7d" stroke-width="0.9" fill="none"/>
<path d="M738.7 572.8V590.7M733.1 572.8H744.3M733.1 590.7H744.3" stroke="#0e7f7d" stroke-width="0.9" fill="none"/>
<path d="M772.6 605.8V621.2M767 605.8H778.2M767 621.2H778.2" stroke="#0e7f7d" stroke-width="0.9" fill="none"/>
<circle cx="456.8" cy="503.5" r="2.25" fill="#000000"/>
<circle cx="452.9" cy="510.5" r="2.25" fill="#000000"/>
<circle cx="460.5" cy="510.9" r="2.25" fill="#000000"/>
<circle cx="456.8" cy="516.1" r="2.25" fill="#000000"/>
<circle cx="456.8" cy="521.8" r="2.25" fill="#000000"/>
<circle cx="456.8" cy="542.3" r="2.25" fill="#000000"/>
<circle cx="490.5" cy="555.2" r="2.25" fill="#000000"/>
<circle cx="490.5" cy="560" r="2.25" fill="#000000"/>
<circle cx="494.5" cy="564.2" r="2.25" fill="#000000"/>
<circle cx="486.9" cy="567.3" r="2.25" fill="#000000"/>
<circle cx="490.5" cy="574.2" r="2.25" fill="#000000"/>
<circle cx="490.5" cy="582.2" r="2.25" fill="#000000"/>
<circle cx="524.4" cy="566.1" r="2.25" fill="#000000"/>
<circle cx="517" cy="578.4" r="2.25" fill="#000000"/>
<circle cx="524.4" cy="578.1" r="2.25" fill="#000000"/>
<circle cx="531.9" cy="581.3" r="2.25" fill="#000000"/>
<circle cx="524.4" cy="584.4" r="2.25" fill="#000000"/>
<circle cx="524.4" cy="588.5" r="2.25" fill="#000000"/>
<circle cx="577" cy="437.7" r="2.25" fill="#f5005f"/>
<circle cx="584.7" cy="435.4" r="2.25" fill="#f5005f"/>
<circle cx="581" cy="452.2" r="2.25" fill="#f5005f"/>
<circle cx="581" cy="529.3" r="2.25" fill="#f5005f"/>
<circle cx="581" cy="547.8" r="2.25" fill="#f5005f"/>
<circle cx="581" cy="562.1" r="2.25" fill="#f5005f"/>
<circle cx="607.2" cy="435.9" r="2.25" fill="#f5005f"/>
<circle cx="614.7" cy="438.5" r="2.25" fill="#f5005f"/>
<circle cx="607.2" cy="454.4" r="2.25" fill="#f5005f"/>
<circle cx="614.7" cy="457.5" r="2.25" fill="#f5005f"/>
<circle cx="622.1" cy="457" r="2.25" fill="#f5005f"/>
<circle cx="614.7" cy="487.8" r="2.25" fill="#f5005f"/>
<circle cx="648.4" cy="609" r="2.25" fill="#f5005f"/>
<circle cx="639.1" cy="619.2" r="2.25" fill="#f5005f"/>
<circle cx="644.9" cy="617.7" r="2.25" fill="#f5005f"/>
<circle cx="651.7" cy="621" r="2.25" fill="#f5005f"/>
<circle cx="658.1" cy="618.6" r="2.25" fill="#f5005f"/>
<circle cx="644.9" cy="623" r="2.25" fill="#f5005f"/>
<circle cx="704.9" cy="472.5" r="2.25" fill="#0e7f7d"/>
<circle cx="704.9" cy="484.9" r="2.25" fill="#0e7f7d"/>
<circle cx="704.9" cy="499.9" r="2.25" fill="#0e7f7d"/>
<circle cx="701.2" cy="505.3" r="2.25" fill="#0e7f7d"/>
<circle cx="708.6" cy="506.8" r="2.25" fill="#0e7f7d"/>
<circle cx="704.9" cy="519.3" r="2.25" fill="#0e7f7d"/>
<circle cx="738.5" cy="568.8" r="2.25" fill="#0e7f7d"/>
<circle cx="731" cy="578.3" r="2.25" fill="#0e7f7d"/>
<circle cx="746" cy="578.3" r="2.25" fill="#0e7f7d"/>
<circle cx="738.5" cy="581.2" r="2.25" fill="#0e7f7d"/>
<circle cx="734.8" cy="591.2" r="2.25" fill="#0e7f7d"/>
<circle cx="742.7" cy="590.7" r="2.25" fill="#0e7f7d"/>
<circle cx="772.6" cy="602" r="2.25" fill="#0e7f7d"/>
<circle cx="765" cy="607.6" r="2.25" fill="#0e7f7d"/>
<circle cx="772.6" cy="611.1" r="2.25" fill="#0e7f7d"/>
<circle cx="772.6" cy="618.4" r="2.25" fill="#0e7f7d"/>
<circle cx="765" cy="621.8" r="2.25" fill="#0e7f7d"/>
<circle cx="780.1" cy="620.1" r="2.25" fill="#0e7f7d"/>
<path d="M434.1 393.42V633.2M429.4 633.2H795.7M429.4 633.2H434.1M431.8 620.58H434.1M431.8 607.96H434.1M431.8 595.34H434.1M431.8 582.72H434.1M429.4 570.1H434.1M431.8 557.48H434.1M431.8 544.86H434.1M431.8 532.24H434.1M431.8 519.62H434.1M429.4 507H434.1M431.8 494.38H434.1M431.8 481.76H434.1M431.8 469.14H434.1M431.8 456.52H434.1M429.4 443.9H434.1M431.8 431.28H434.1M431.8 418.66H434.1M431.8 406.04H434.1M431.8 393.42H434.1M456.8 633.2V636.2M490.5 633.2V636.2M524.4 633.2V636.2M581 633.2V636.2M614.8 633.2V636.2M648.5 633.2V636.2M704.9 633.2V636.2M738.7 633.2V636.2M772.6 633.2V636.2" stroke="#1e1e1e" stroke-width="1.4" fill="none"/>
<text x="428.7" y="639.8" class="tl" text-anchor="end">0</text>
<text x="428.7" y="576.7" class="tl" text-anchor="end">1</text>
<text x="428.7" y="513.6" class="tl" text-anchor="end">2</text>
<text x="428.7" y="450.5" class="tl" text-anchor="end">3</text>
<text transform="translate(461.8 648.6) rotate(-45)" class="xl" style="font-size:14.7px" text-anchor="end">PA01</text>
<text transform="translate(495.5 648.6) rotate(-45)" class="xl" style="font-size:14.7px" text-anchor="end">PairEP</text>
<text transform="translate(529.4 648.6) rotate(-45)" class="xl" style="font-size:14.7px" text-anchor="end">K12</text>
<text transform="translate(586 648.6) rotate(-45)" class="xl" style="font-size:14.7px" text-anchor="end">PA01</text>
<text transform="translate(619.8 648.6) rotate(-45)" class="xl" style="font-size:14.7px" text-anchor="end">PairEP</text>
<text transform="translate(653.5 648.6) rotate(-45)" class="xl" style="font-size:14.7px" text-anchor="end">K12</text>
<text transform="translate(709.9 648.6) rotate(-45)" class="xl" style="font-size:14.7px" text-anchor="end">PA01</text>
<text transform="translate(743.7 648.6) rotate(-45)" class="xl" style="font-size:14.7px" text-anchor="end">PairEP</text>
<text transform="translate(777.6 648.6) rotate(-45)" class="xl" style="font-size:14.7px" text-anchor="end">K12</text>
<text transform="translate(421.71 378.6) scale(0.716 1)" style="font-size:35.65px" class="let">E</text>
<circle cx="476" cy="384.9" r="2.4" fill="#000000"/>
<text x="484.7" y="389.4" class="lg">AUM</text>
<circle cx="603.3" cy="384.9" r="2.4" fill="#f5005f"/>
<text x="611.5" y="389.4" class="lg">ISO</text>
<circle cx="730.4" cy="384.9" r="2.4" fill="#0e7f7d"/>
<text x="738.6" y="389.4" class="lg">LB</text>
<path d="M457 411.3H524.4M457 426.6H489.1M492.3 426.6H524.4" stroke="#606060" stroke-width="1.1" fill="none"/>
<text x="490.7" y="411.2" class="st" text-anchor="middle">****</text>
<text x="473.85" y="426.5" class="st" text-anchor="middle">**</text>
<text x="507.55" y="423.8" class="ns" text-anchor="middle">ns</text>
<path d="M581.2 411.3H648.5M581.2 426.6H613.2M616.4 426.6H648.5" stroke="#606060" stroke-width="1.1" fill="none"/>
<text x="614.85" y="411.2" class="st" text-anchor="middle">****</text>
<text x="598" y="426.5" class="st" text-anchor="middle">*</text>
<text x="631.65" y="426.5" class="st" text-anchor="middle">****</text>
<path d="M704.9 411.3H772.6M704.9 426.6H737.2M740.4 426.6H772.6" stroke="#606060" stroke-width="1.1" fill="none"/>
<text x="738.75" y="411.2" class="st" text-anchor="middle">****</text>
<text x="721.85" y="426.5" class="st" text-anchor="middle">****</text>
<text x="755.7" y="426.5" class="st" text-anchor="middle">*</text>
</svg></body></html>
